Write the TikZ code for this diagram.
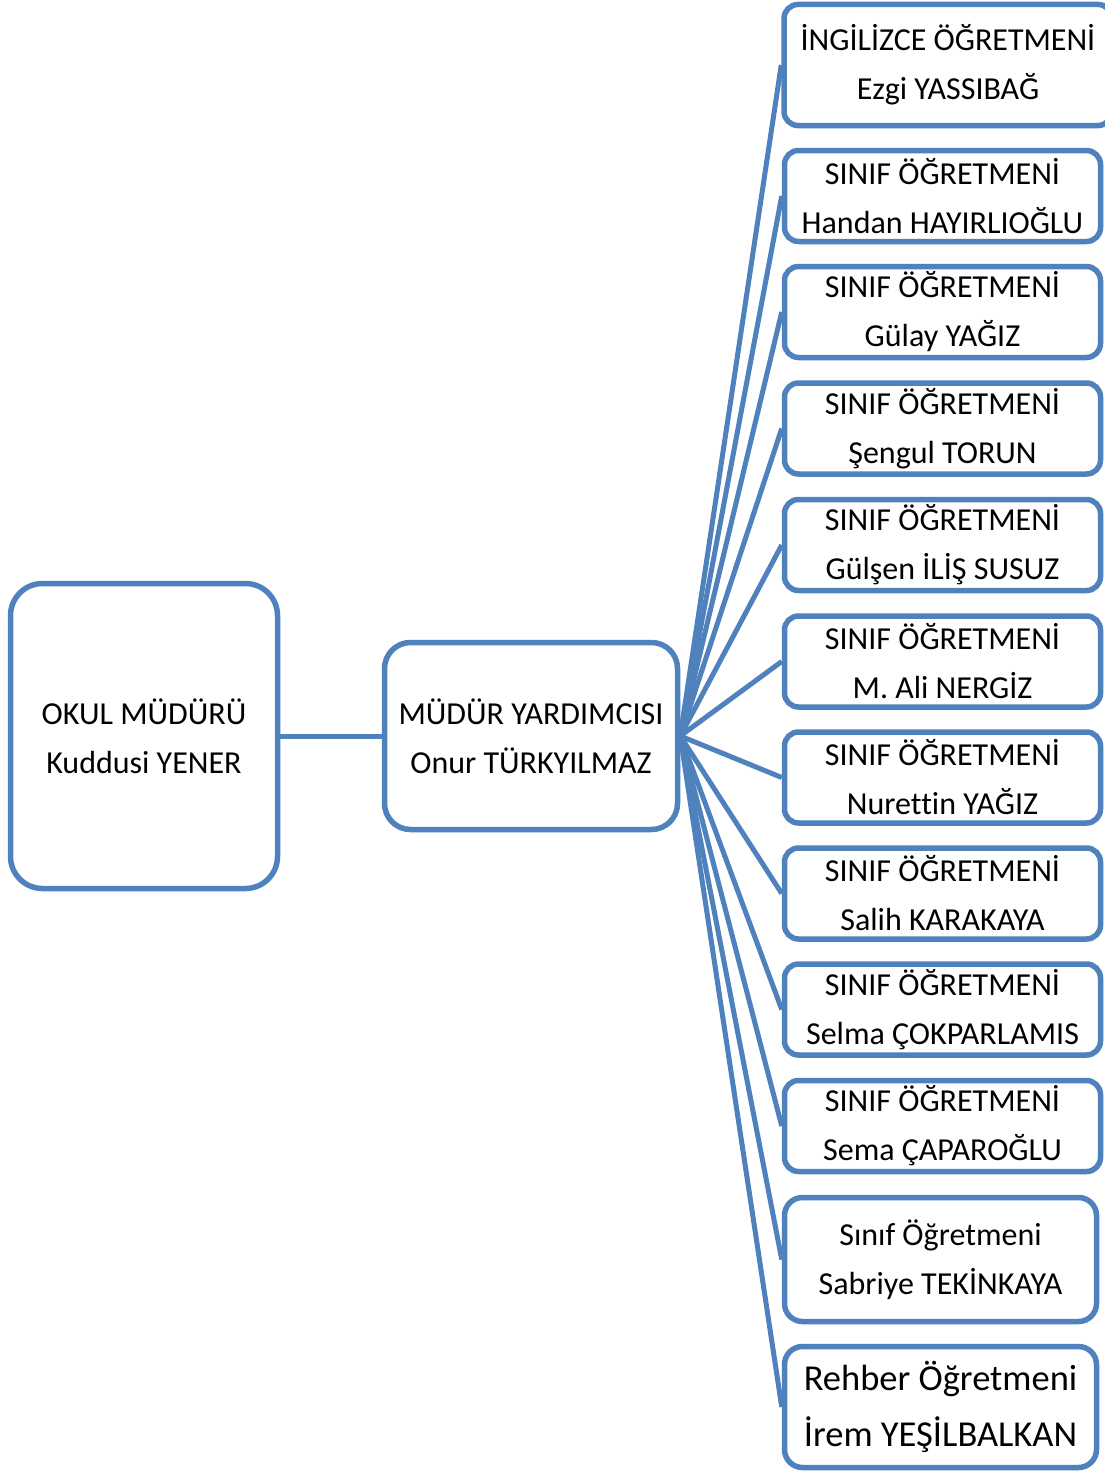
\documentclass[tikz,border=0pt]{standalone}
\usepackage{fontspec}
\setmainfont{Carlito}[Ligatures=NoCommon]
\usepackage{tikz}
\usetikzlibrary{positioning}
\definecolor{orgblue}{RGB}{79,129,189}
\tikzset{
  staffbox/.style={draw=orgblue, line width=5.5pt, rounded corners=14pt, fill=white,
    align=center, inner sep=0pt, text=black, font=\fontsize{32}{49}\selectfont},
  link/.style={orgblue, line width=5pt},
}

\begin{document}
\begin{tikzpicture}[x=1pt, y=-1pt]
    \clip (0,0) rectangle (1105,1472);
    \fill[white] (0,0) rectangle (1105,1472);
    % Management
    \node[staffbox, rounded corners=32pt, minimum width=267pt, minimum height=305pt] (Boss) at (144, 736) {OKUL MÜDÜRÜ\\Kuddusi YENER};
    \node[staffbox, rounded corners=26pt, minimum width=293pt, minimum height=187pt] (Vice) at (531, 736) {MÜDÜR YARDIMCISI\\Onur TÜRKYILMAZ};
    % Teachers
    \node[staffbox, minimum width=328pt, minimum height=121pt] (T1) at (948, 65) {İNGİLİZCE ÖĞRETMENİ\\Ezgi YASSIBAĞ};
    \node[staffbox, minimum width=316pt, minimum height=91pt] (T2) at (942.5, 196) {SINIF ÖĞRETMENİ\\Handan HAYIRLIOĞLU};
    \node[staffbox, minimum width=316pt, minimum height=91pt] (T3) at (942.5, 312) {SINIF ÖĞRETMENİ\\Gülay YAĞIZ};
    \node[staffbox, minimum width=316pt, minimum height=91pt] (T4) at (942.5, 428.5) {SINIF ÖĞRETMENİ\\Şengul TORUN};
    \node[staffbox, minimum width=316pt, minimum height=91pt] (T5) at (942.5, 545) {SINIF ÖĞRETMENİ\\Gülşen İLİŞ SUSUZ};
    \node[staffbox, minimum width=316pt, minimum height=91pt] (T6) at (942.5, 661.5) {SINIF ÖĞRETMENİ\\M. Ali NERGİZ};
    \node[staffbox, minimum width=316pt, minimum height=91pt] (T7) at (942.5, 777.5) {SINIF ÖĞRETMENİ\\Nurettin YAĞIZ};
    \node[staffbox, minimum width=316pt, minimum height=91pt] (T8) at (942.5, 893.5) {SINIF ÖĞRETMENİ\\Salih KARAKAYA};
    \node[staffbox, minimum width=316pt, minimum height=91pt] (T9) at (942.5, 1009.5) {SINIF ÖĞRETMENİ\\Selma ÇOKPARLAMIS};
    \node[staffbox, minimum width=316pt, minimum height=91pt] (T10) at (942.5, 1126) {SINIF ÖĞRETMENİ\\Sema ÇAPAROĞLU};
    \node[staffbox, rounded corners=18pt, minimum width=312pt, minimum height=124pt] (T11) at (940.5, 1259.5) {Sınıf Öğretmeni\\Sabriye TEKİNKAYA};
    \node[staffbox, rounded corners=18pt, minimum width=312pt, minimum height=121pt, font=\fontsize{36.5}{56}\selectfont] (T12) at (940.5, 1407) {Rehber Öğretmeni\\İrem YEŞİLBALKAN};
    % Draw links
    \draw[link] (Boss.east) -- (Vice.west);
    \foreach \t in {T1,T2,T3,T4,T5,T6,T7,T8,T9,T10,T11,T12}
      \draw[link] (Vice.east) -- (\t.west);
\end{tikzpicture}
\end{document}
